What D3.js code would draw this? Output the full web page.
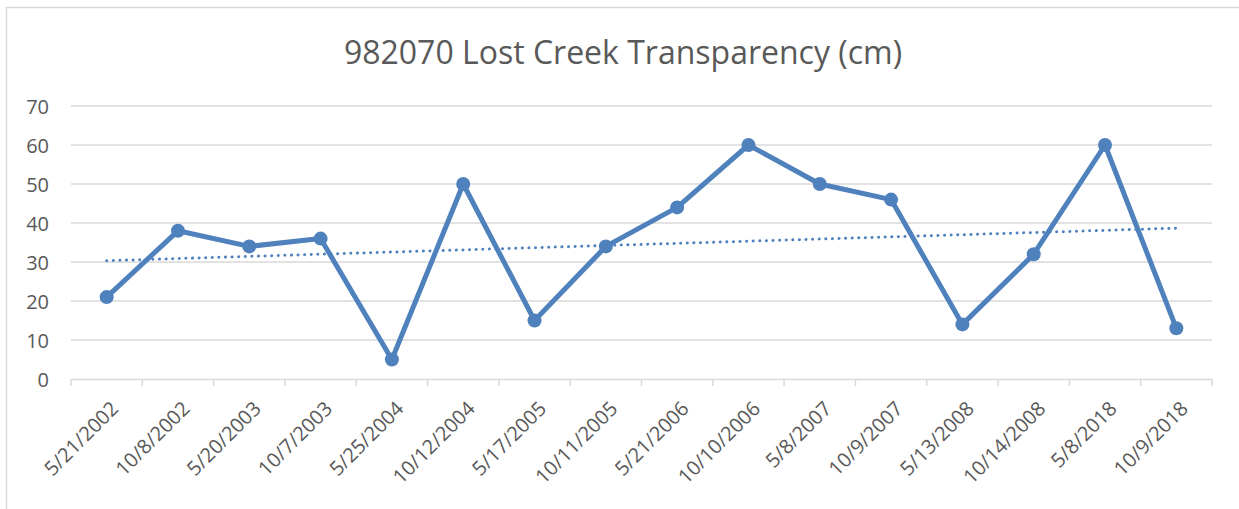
<!DOCTYPE html>
<html lang="en">
<head>
    <meta charset="UTF-8">
    <title>982070 Lost Creek Transparency (cm)</title>
    <script src="https://cdn.jsdelivr.net/npm/d3@7/dist/d3.min.js"></script>
    <style>
        body { margin: 0; background: #fff; }
        svg text { font-family: "Open Sans", "Noto Sans", sans-serif; fill: #595959; }
    </style>
</head>
<body>
    <div id="chart"></div>
    <script>
        // fechas de muestreo y transparencia (cm)
        var fechas = ["5/21/2002", "10/8/2002", "5/20/2003", "10/7/2003", "5/25/2004", "10/12/2004",
            "5/17/2005", "10/11/2005", "5/21/2006", "10/10/2006", "5/8/2007", "10/9/2007",
            "5/13/2008", "10/14/2008", "5/8/2018", "10/9/2018"];
        var valores = [21, 38, 34, 36, 5, 50, 15, 34, 44, 60, 50, 46, 14, 32, 60, 13];
        var ticksY = [0, 10, 20, 30, 40, 50, 60, 70];

        var width = 1239, height = 509;
        var margin = { left: 71, right: 27, top: 106, bottom: 130 };

        var svg = d3.select("#chart").append("svg")
            .attr("width", width)
            .attr("height", height);

        // borde del gráfico (solo se ven arriba e izquierda)
        svg.append("path")
            .attr("d", "M6.5," + height + "V7.5H" + width)
            .attr("fill", "none")
            .attr("stroke", "#d9d9d9")
            .attr("stroke-width", 1.5);

        svg.append("text")
            .attr("x", 623).attr("y", 64)
            .attr("text-anchor", "middle")
            .style("font-size", "32px")
            .text("982070 Lost Creek Transparency (cm)");

        var x = d3.scaleBand()
            .domain(fechas)
            .range([margin.left, width - margin.right]);

        var y = d3.scaleLinear()
            .domain([0, 70])
            .range([height - margin.bottom, margin.top]);

        // líneas de cuadrícula
        svg.append("g")
            .selectAll("line")
            .data(ticksY.slice(1))
            .enter().append("line")
            .attr("x1", margin.left).attr("x2", width - margin.right)
            .attr("y1", function(d) { return y(d); })
            .attr("y2", function(d) { return y(d); })
            .attr("stroke", "#d9d9d9")
            .attr("stroke-width", 1.3);

        // eje Y
        var ejeY = svg.append("g")
            .attr("transform", "translate(49,0)")
            .call(d3.axisLeft(y).tickValues(ticksY).tickSize(0).tickPadding(0));
        ejeY.select(".domain").remove();
        ejeY.selectAll("text")
            .style("font-size", "20px")
            .attr("dy", "0.36em");

        // eje X
        var ejeX = svg.append("g")
            .attr("transform", "translate(0," + y(0) + ")")
            .call(d3.axisBottom(x).tickSize(0).tickPadding(0));
        ejeX.select(".domain")
            .attr("stroke", "#d9d9d9")
            .attr("stroke-width", 1.5);
        ejeX.selectAll(".tick line").remove();
        ejeX.selectAll("text")
            .style("font-size", "20px")
            .attr("text-anchor", "end")
            .attr("y", 0)
            .attr("dy", 0)
            .attr("transform", "translate(13,31) rotate(-45)");

        // marcas de división entre categorías
        var bordes = fechas.map(function(d) { return x(d); }).concat([x.range()[1]]);
        svg.append("g")
            .selectAll("line")
            .data(bordes)
            .enter().append("line")
            .attr("x1", function(d) { return d; })
            .attr("x2", function(d) { return d; })
            .attr("y1", y(0))
            .attr("y2", y(0) + 7)
            .attr("stroke", "#d9d9d9")
            .attr("stroke-width", 1.5);

        var color = "#4f81bd";
        var cx = function(d, i) { return x(fechas[i]) + x.bandwidth() / 2; };

        // línea de tendencia lineal (regresión)
        var n = valores.length;
        var mx = d3.mean(valores, function(d, i) { return i; });
        var my = d3.mean(valores);
        var sxy = d3.sum(valores, function(d, i) { return (i - mx) * (d - my); });
        var sxx = d3.sum(valores, function(d, i) { return (i - mx) * (i - mx); });
        var pendiente = sxy / sxx;
        var intercepto = my - pendiente * mx;
        svg.append("line")
            .attr("x1", cx(null, 0))
            .attr("x2", cx(null, n - 1))
            .attr("y1", y(intercepto))
            .attr("y2", y(intercepto + pendiente * (n - 1)))
            .attr("stroke", color)
            .attr("stroke-width", 3)
            .attr("stroke-linecap", "round")
            .attr("stroke-dasharray", "0.1 6.5");

        var linea = d3.line()
            .x(cx)
            .y(function(d) { return y(d); });

        svg.append("path")
            .datum(valores)
            .attr("d", linea)
            .attr("fill", "none")
            .attr("stroke", color)
            .attr("stroke-width", 5)
            .attr("stroke-linejoin", "round");

        svg.append("g")
            .selectAll("circle")
            .data(valores)
            .enter().append("circle")
            .attr("cx", cx)
            .attr("cy", function(d) { return y(d); })
            .attr("r", 7)
            .attr("fill", color);
    </script>
</body>
</html>
